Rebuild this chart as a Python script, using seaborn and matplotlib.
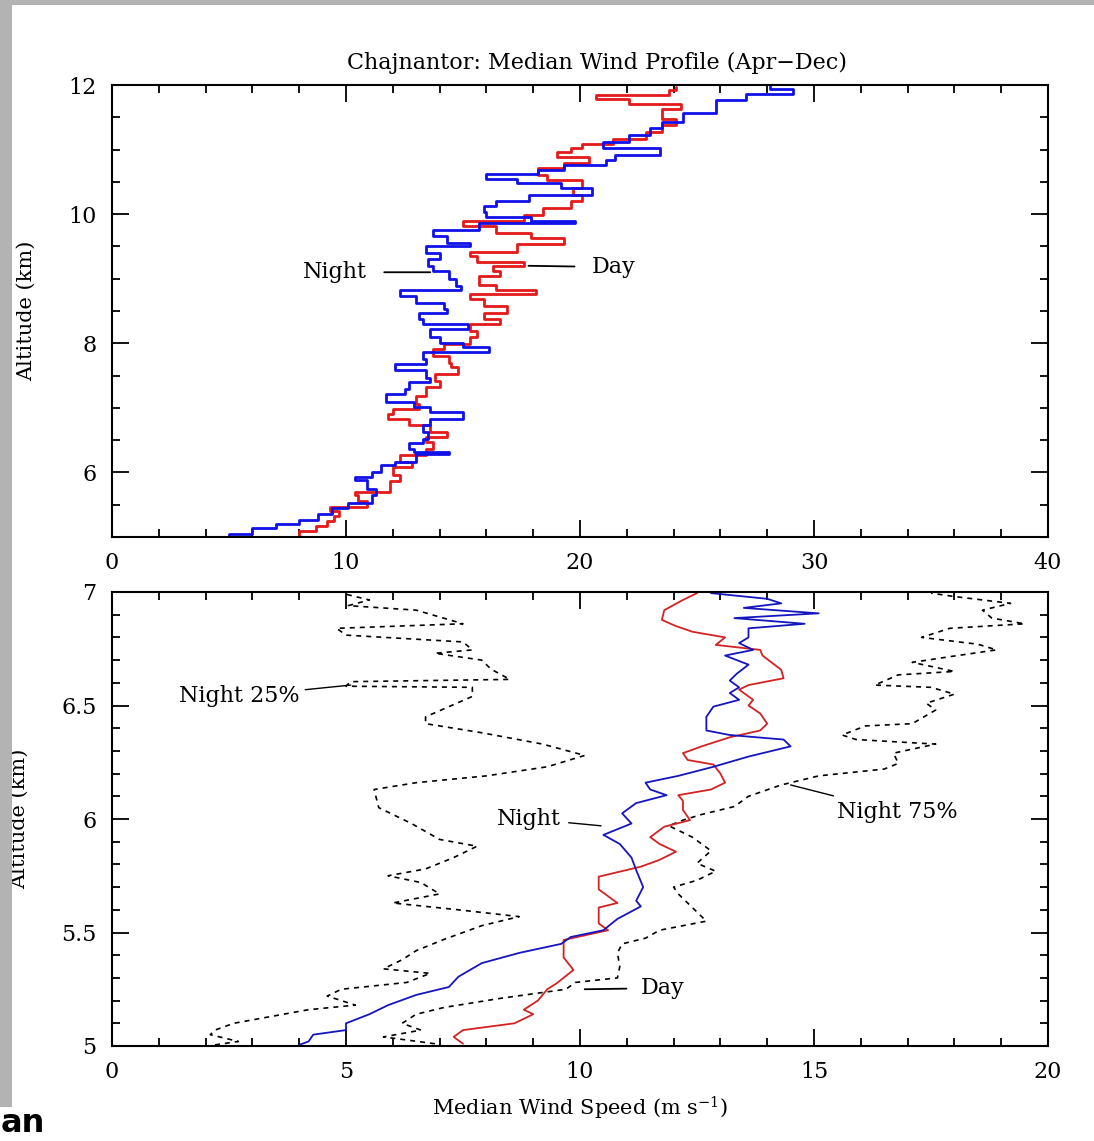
import numpy as np
import pandas as pd
import seaborn as sns
import matplotlib.pyplot as plt
from matplotlib.patches import Rectangle
from matplotlib.ticker import MultipleLocator, FixedLocator

# =========================
# Datos
# =========================
# Panel superior: perfil mediano 5-12 km
top_night_alt = [5.0, 5.05, 5.14, 5.2, 5.26, 5.35, 5.45, 5.52, 5.65, 5.75, 5.88, 5.93, 6.01, 6.11,
                 6.16, 6.29, 6.32, 6.37, 6.45, 6.52, 6.63, 6.73, 6.83, 6.93, 7.01, 7.09, 7.14, 7.22,
                 7.29, 7.40, 7.47, 7.58, 7.68, 7.76, 7.86, 7.94, 8.01, 8.09, 8.22, 8.30, 8.37, 8.47,
                 8.53, 8.63, 8.73, 8.82, 8.89, 8.99, 9.12, 9.19, 9.30, 9.40, 9.50, 9.55, 9.66, 9.76,
                 9.86, 9.89, 9.96, 10.04, 10.12, 10.20, 10.30, 10.40, 10.48, 10.55, 10.62, 10.68,
                 10.76, 10.84, 10.91, 11.02, 11.12, 11.22, 11.33, 11.43, 11.56, 11.66, 11.76, 11.86,
                 11.94, 11.99]
top_night_speed = [4.1, 5.0, 6.0, 7.0, 8.0, 8.8, 9.4, 10.1, 11.1, 11.3, 10.9, 10.4, 11.1, 11.5,
                   12.1, 13.0, 14.4, 12.9, 12.7, 13.3, 13.5, 13.3, 13.6, 15.0, 13.6, 12.9, 11.7, 11.7,
                   12.5, 12.7, 13.6, 13.4, 12.1, 13.4, 13.3, 16.1, 15.0, 14.0, 13.6, 15.2, 13.3, 13.1,
                   14.3, 14.2, 13.0, 12.3, 14.9, 14.7, 14.4, 13.7, 13.5, 14.0, 13.4, 15.3, 14.3, 13.7,
                   15.7, 19.8, 17.9, 16.0, 15.9, 16.4, 17.8, 20.5, 19.2, 17.3, 16.0, 18.2,
                   19.3, 21.1, 21.5, 23.4, 21.0, 22.1, 23.0, 23.5, 24.4, 25.8, 25.8, 27.1,
                   29.1, 28.1]

top_day_alt = [5.0, 5.09, 5.17, 5.25, 5.33, 5.40, 5.46, 5.55, 5.65, 5.70, 5.86, 5.96, 6.09, 6.16,
               6.27, 6.37, 6.47, 6.55, 6.63, 6.73, 6.83, 6.91, 6.98, 7.06, 7.19, 7.32, 7.42, 7.52,
               7.63, 7.70, 7.81, 7.91, 7.99, 8.09, 8.19, 8.30, 8.37, 8.47, 8.58, 8.68, 8.76, 8.82,
               8.91, 9.04, 9.12, 9.19, 9.26, 9.35, 9.42, 9.53, 9.63, 9.71, 9.81, 9.89, 9.99, 10.09,
               10.20, 10.30, 10.40, 10.53, 10.61, 10.71, 10.79, 10.89, 10.97, 11.02, 11.09, 11.17,
               11.27, 11.38, 11.48, 11.56, 11.63, 11.71, 11.79, 11.84, 11.92, 11.97]
top_day_speed = [7.3, 8.0, 8.7, 9.2, 9.5, 9.7, 9.3, 10.9, 10.5, 10.4, 11.9, 12.3, 12.0, 12.8,
                 12.3, 13.4, 13.7, 13.4, 14.3, 13.6, 12.7, 11.8, 12.0, 13.1, 13.0, 13.4, 14.0, 13.8,
                 14.8, 14.5, 14.4, 13.7, 14.2, 15.3, 15.6, 15.3, 16.6, 15.9, 16.9, 15.9, 15.3, 18.1,
                 16.4, 15.7, 16.6, 16.3, 17.6, 15.6, 15.3, 17.3, 19.3, 17.9, 16.4, 15.0, 17.6, 18.4,
                 19.6, 20.1, 19.7, 20.1, 18.6, 18.2, 19.3, 20.4, 19.0, 19.6, 20.1, 21.4,
                 22.8, 23.5, 24.1, 23.5, 23.5, 24.3, 22.1, 20.7, 23.8, 24.1]

# Panel inferior: 5-7 km
low_night_alt = [5.005, 5.02, 5.05, 5.07, 5.10, 5.14, 5.18, 5.225, 5.26, 5.305, 5.365, 5.41, 5.45,
                 5.48, 5.51, 5.56, 5.615, 5.64, 5.70, 5.775, 5.83, 5.89, 5.93, 5.98, 6.025, 6.07,
                 6.105, 6.13, 6.16, 6.19, 6.23, 6.275, 6.32, 6.35, 6.37, 6.39, 6.45, 6.495, 6.525,
                 6.555, 6.58, 6.61, 6.64, 6.68, 6.72, 6.745, 6.775, 6.80, 6.84, 6.86, 6.885, 6.906,
                 6.93, 6.95, 6.97, 6.995]
low_night_speed = [4.0, 4.2, 4.3, 5.0, 5.0, 5.5, 5.9, 6.5, 7.2, 7.4, 7.9, 8.7, 9.6,
                   9.8, 10.5, 10.8, 11.3, 11.2, 11.35, 11.2, 11.1, 10.85, 10.5, 11.1, 10.9, 11.2,
                   11.85, 11.5, 11.4, 12.1, 12.85, 13.6, 14.5, 14.35, 13.2, 12.7, 12.7, 12.85, 13.4,
                   13.2, 13.4, 13.2, 13.35, 13.6, 13.1, 13.7, 13.4, 13.6, 13.6, 14.8, 13.3, 15.1,
                   13.5, 14.3, 14.0, 12.8]

low_day_alt = [5.01, 5.04, 5.07, 5.10, 5.14, 5.16, 5.20, 5.25, 5.276, 5.335, 5.39, 5.467, 5.51,
               5.54, 5.61, 5.63, 5.69, 5.746, 5.79, 5.82, 5.856, 5.89, 5.92, 5.966, 5.995, 6.04,
               6.08, 6.105, 6.13, 6.16, 6.20, 6.24, 6.26, 6.29, 6.32, 6.36, 6.39, 6.42, 6.465,
               6.50, 6.525, 6.57, 6.59, 6.62, 6.657, 6.72, 6.745, 6.767, 6.80, 6.825, 6.85,
               6.877, 6.92, 6.965, 6.995]
low_day_speed = [7.5, 7.3, 7.5, 8.6, 9.0, 8.8, 9.1, 9.3, 9.5, 9.86, 9.65, 9.65, 10.6,
                 10.4, 10.4, 10.8, 10.4, 10.4, 11.3, 11.7, 12.05, 11.7, 11.5, 11.8, 12.35, 12.2,
                 12.2, 12.1, 12.8, 13.1, 13.0, 12.85, 12.3, 12.2, 12.6, 13.2, 13.85, 14.0, 13.85,
                 13.6, 13.7, 13.4, 13.6, 14.35, 14.3, 13.9, 13.85, 12.9, 13.1, 12.4, 12.05,
                 11.75, 11.8, 12.2, 12.5]

night25_alt = [5.005, 5.02, 5.05, 5.07, 5.10, 5.13, 5.16, 5.18, 5.22, 5.25, 5.28, 5.32, 5.34,
               5.38, 5.42, 5.47, 5.53, 5.57, 5.60, 5.63, 5.67, 5.72, 5.75, 5.78, 5.83, 5.88,
               5.91, 5.98, 6.05, 6.13, 6.16, 6.19, 6.23, 6.28, 6.33, 6.38, 6.42, 6.45, 6.495,
               6.54, 6.58, 6.585, 6.605, 6.615, 6.66, 6.70, 6.73, 6.745, 6.78, 6.81, 6.84, 6.86,
               6.92, 6.94, 6.965, 6.99]
night25_speed = [2.2, 2.7, 2.1, 2.2, 2.6, 3.4, 4.2, 5.2, 4.6, 4.9, 6.3, 6.8, 5.8,
                 6.2, 6.5, 7.1, 7.9, 8.7, 7.4, 6.0, 7.0, 6.6, 5.9, 6.7, 7.3, 7.8,
                 7.0, 6.4, 5.7, 5.6, 6.5, 8.0, 9.3, 10.1, 9.2, 7.9, 6.7, 6.7, 7.2,
                 7.7, 7.7, 5.0, 5.1, 8.5, 8.1, 7.9, 6.9, 7.7, 7.5, 5.0, 4.8, 7.5,
                 6.5, 5.05, 5.5, 5.0]

night75_alt = [5.01, 5.04, 5.07, 5.10, 5.14, 5.17, 5.21, 5.25, 5.28, 5.30, 5.35, 5.41, 5.45,
               5.475, 5.51, 5.55, 5.61, 5.67, 5.70, 5.73, 5.77, 5.805, 5.86, 5.92, 5.97, 5.995,
               6.02, 6.055, 6.10, 6.15, 6.19, 6.22, 6.245, 6.29, 6.33, 6.35, 6.37, 6.41, 6.42,
               6.48, 6.51, 6.55, 6.58, 6.59, 6.635, 6.65, 6.69, 6.715, 6.745, 6.77, 6.80, 6.84,
               6.86, 6.885, 6.92, 6.95, 6.98, 6.995]
night75_speed = [6.9, 5.8, 6.6, 6.2, 6.5, 7.1, 8.3, 9.7, 9.9, 10.8, 10.85, 10.8, 10.9,
                 11.4, 11.7, 12.7, 12.4, 12.1, 12.0, 12.5, 12.9, 12.5, 12.8, 12.4, 11.9, 12.2,
                 12.6, 13.3, 13.6, 14.3, 15.1, 16.5, 16.8, 16.7, 17.6, 15.9, 15.6, 16.1, 17.1,
                 17.6, 17.4, 18.0, 17.5, 16.3, 16.8, 18.0, 17.1, 17.9, 18.9, 18.5, 17.3, 17.9,
                 19.5, 18.8, 18.6, 19.2, 18.0, 17.5]

# =========================
# Estilo
# =========================
sns.set_style("ticks")
plt.rcParams['font.family'] = ['DejaVu Serif']
plt.rcParams['mathtext.fontset'] = 'dejavuserif'
plt.rcParams['text.color'] = 'black'
plt.rcParams['axes.labelcolor'] = 'black'
plt.rcParams['xtick.color'] = 'black'
plt.rcParams['ytick.color'] = 'black'

BLUE = "#1010e8"
RED = "#e41a1a"

fig = plt.figure(figsize=(10.94, 11.41), dpi=100)
fig.patch.set_facecolor("white")
# bordes grises de la captura original
fig.patches.append(Rectangle((0, 1 - 5 / 1141), 1, 5 / 1141, transform=fig.transFigure,
                             facecolor="#b3b3b3", edgecolor="none", zorder=0))
fig.patches.append(Rectangle((0, 1 - 1107 / 1141), 12 / 1094, 1107 / 1141, transform=fig.transFigure,
                             facecolor="#b3b3b3", edgecolor="none", zorder=0))

ax1 = fig.add_axes([112 / 1094, 1 - 537 / 1141, 936 / 1094, 452 / 1141])
ax2 = fig.add_axes([112 / 1094, 1 - 1046 / 1141, 936 / 1094, 454 / 1141])


def style_axes(ax):
    for s in ax.spines.values():
        s.set_linewidth(1.5)
        s.set_color("black")
    ax.tick_params(which='both', direction='in', top=True, right=True,
                   labelsize=16, pad=11, colors="black")
    ax.tick_params(which='major', length=12, width=1.3)
    ax.tick_params(which='minor', length=6, width=1.3)


# =========================
# Panel superior
# =========================
sns.lineplot(x=top_day_speed, y=top_day_alt, sort=False, estimator=None, color=RED,
             lw=2.0, drawstyle='steps-post', ax=ax1)
sns.lineplot(x=top_night_speed, y=top_night_alt, sort=False, estimator=None, color=BLUE,
             lw=2.0, drawstyle='steps-post', ax=ax1)
ax1.set_xlim(0, 40)
ax1.set_ylim(5, 12)
ax1.xaxis.set_major_locator(MultipleLocator(10))
ax1.xaxis.set_minor_locator(MultipleLocator(2))
ax1.yaxis.set_major_locator(FixedLocator([6, 8, 10, 12]))
ax1.yaxis.set_minor_locator(MultipleLocator(0.5))
style_axes(ax1)
ax1.set_xlabel("")
ax1.set_ylabel("Altitude (km)", fontsize=15)
ax1.yaxis.set_label_coords(-0.081, 0.5)

ax1.annotate("Night", xy=(13.6, 9.1), xytext=(10.9, 9.1), fontsize=16, ha='right', va='center',
             arrowprops=dict(arrowstyle='-', lw=1.3, color='black', shrinkA=10, shrinkB=0))
ax1.annotate("Day", xy=(17.8, 9.2), xytext=(20.5, 9.18), fontsize=16, ha='left', va='center',
             arrowprops=dict(arrowstyle='-', lw=1.3, color='black', shrinkA=10, shrinkB=0))

fig.text(597 / 1094, 1 - 63 / 1141, "Chajnantor: Median Wind Profile (Apr\u2212Dec)",
         fontsize=16, ha='center', va='center')

# =========================
# Panel inferior
# =========================
sns.lineplot(x=night25_speed, y=night25_alt, sort=False, estimator=None, color="black",
             lw=1.2, linestyle=(0, (3, 3)), ax=ax2)
sns.lineplot(x=night75_speed, y=night75_alt, sort=False, estimator=None, color="black",
             lw=1.2, linestyle=(0, (3, 3)), ax=ax2)
sns.lineplot(x=low_day_speed, y=low_day_alt, sort=False, estimator=None, color="#d42222",
             lw=1.3, ax=ax2)
sns.lineplot(x=low_night_speed, y=low_night_alt, sort=False, estimator=None, color="#1515c0",
             lw=1.3, ax=ax2)
ax2.set_xlim(0, 20)
ax2.set_ylim(5, 7)
ax2.xaxis.set_major_locator(MultipleLocator(5))
ax2.xaxis.set_minor_locator(MultipleLocator(1))
ax2.yaxis.set_major_locator(MultipleLocator(0.5))
ax2.yaxis.set_minor_locator(MultipleLocator(0.1))
ax2.yaxis.set_major_formatter(plt.FuncFormatter(lambda v, p: f"{v:g}"))
style_axes(ax2)
ax2.set_xlabel(r"Median Wind Speed (m s$^{-1}$)", fontsize=15, labelpad=8)
ax2.set_ylabel("Altitude (km)", fontsize=15)
ax2.yaxis.set_label_coords(-0.089, 0.5)

ax2.annotate("Night 25%", xy=(5.1, 6.59), xytext=(4.0, 6.54), fontsize=16, ha='right', va='center',
             arrowprops=dict(arrowstyle='-', lw=1.0, color='black', shrinkA=2, shrinkB=0))
ax2.annotate("Night", xy=(10.45, 5.97), xytext=(9.6, 6.0), fontsize=16, ha='right', va='center',
             arrowprops=dict(arrowstyle='-', lw=1.0, color='black', shrinkA=3, shrinkB=0))
ax2.annotate("Night 75%", xy=(14.5, 6.15), xytext=(15.5, 6.03), fontsize=16, ha='left', va='center',
             arrowprops=dict(arrowstyle='-', lw=1.0, color='black', shrinkA=6, shrinkB=0))
ax2.annotate("Day", xy=(10.1, 5.25), xytext=(11.3, 5.255), fontsize=16, ha='left', va='center',
             arrowprops=dict(arrowstyle='-', lw=1.3, color='black', shrinkA=8, shrinkB=0))

# fragmento de texto de la pagina original
fig.text(0.001, 1 - 1139 / 1141, "an", fontsize=23, fontweight='bold', family='DejaVu Sans',
         ha='left', va='bottom')

plt.savefig("out.png", dpi=100, facecolor=fig.get_facecolor())
plt.close(fig)
